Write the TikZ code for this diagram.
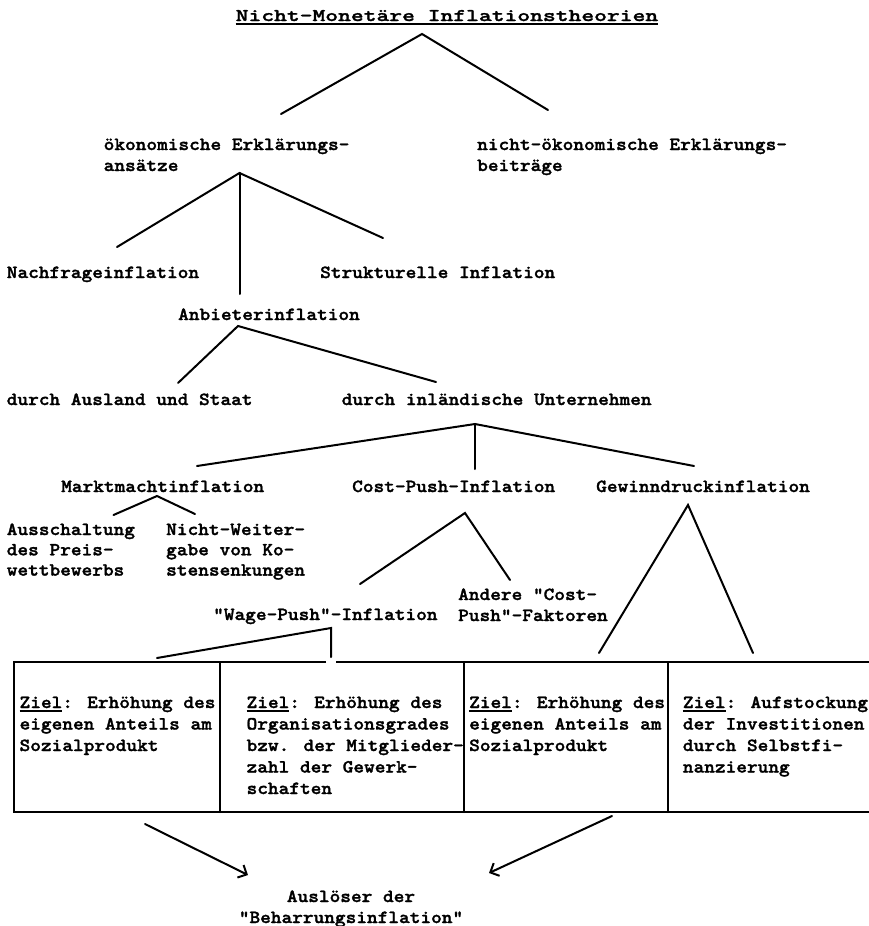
\documentclass[tikz,border=0pt]{standalone}
\usepackage{fontspec}
\usetikzlibrary{arrows.meta}
\newfontfamily\tw[Extension=.otf, FakeStretch=1.10, FakeBold=1.6, UprightFont=*, BoldFont=*]{lmmonolt10-bold}
\newfontfamily\twt[Extension=.otf, FakeStretch=1.37, FakeBold=1.6, UprightFont=*, BoldFont=*]{lmmonolt10-bold}
\newcommand\ulined[1]{\setbox0\hbox{#1}\rlap{\vrule width\wd0 height -2pt depth 3.8pt}\box0}
\newcommand\lns[1]{\begin{tabular}[t]{@{}l@{}}#1\end{tabular}}
\tikzset{
  lbl/.style={inner sep=0pt, anchor=base west, font=\tw\fontsize{18.5}{#1}\selectfont},
  lbl/.default=21.5,
  ttl/.style={inner sep=0pt, anchor=base west, font=\twt\fontsize{17.8}{21}\selectfont},
  ln/.style={line width=2pt, line cap=round},
  arr/.style={ln, -{Straight Barb[length=7pt,width=14pt,line width=2pt]}}
}
\begin{document}
\begin{tikzpicture}[x=1pt,y=-1pt]
\useasboundingbox (0,0) rectangle (868,926);
% texts
\node[ttl] (title) at (235.5,21) {\ulined{Nicht-Monetäre Inflationstheorien}};
\node[lbl=21] (oek) at (103.5,150) {\lns{ökonomische Erklärungs-\\ansätze}};
\node[lbl=21] (noek) at (477,150) {\lns{nicht-ökonomische Erklärungs-\\beiträge}};
\node[lbl] (nach) at (6.6,278) {Nachfrageinflation};
\node[lbl] (strukt) at (320,278) {Strukturelle Inflation};
\node[lbl] (anb) at (178,320) {Anbieterinflation};
\node[lbl] (ausl) at (6.6,405) {durch Ausland und Staat};
\node[lbl] (inl) at (341.6,405) {durch inländische Unternehmen};
\node[lbl] (markt) at (61,492) {Marktmachtinflation};
\node[lbl] (cost) at (352,492) {Cost-Push-Inflation};
\node[lbl] (gew) at (596,492) {Gewinndruckinflation};
\node[lbl=20.3] (aussch) at (6.6,535) {\lns{Ausschaltung\\des Preis-\\wettbewerbs}};
\node[lbl=20.3] (nweit) at (166,535) {\lns{Nicht-Weiter-\\gabe von Ko-\\stensenkungen}};
\node[lbl=21] (andere) at (458,600) {\lns{Andere "Cost-\\Push"-Faktoren}};
\node[lbl] (wage) at (213,620) {"Wage-Push"-Inflation};
\node[lbl] (z1) at (19.4,708) {\lns{\ulined{Ziel}: Erhöhung des\\eigenen Anteils am\\Sozialprodukt}};
\node[lbl] (z2) at (246.4,708) {\lns{\ulined{Ziel}: Erhöhung des\\Organisationsgrades\\bzw. der Mitglieder-\\zahl der Gewerk-\\schaften}};
\node[lbl] (z3) at (469,708) {\lns{\ulined{Ziel}: Erhöhung des\\eigenen Anteils am\\Sozialprodukt}};
\node[lbl] (z4) at (682.7,708) {\lns{\ulined{Ziel}: Aufstockung\\der Investitionen\\durch Selbstfi-\\nanzierung}};
\node[lbl=21, anchor=base] (beh) at (351,902) {\begin{tabular}[t]{@{}c@{}}Auslöser der\\"Beharrungsinflation"\end{tabular}};
% box
\coordinate (bTL) at (14,662); \coordinate (bBL) at (14,812);
\coordinate (bTR) at (872,662); \coordinate (bBR) at (872,812);
\coordinate (gap1) at (326,662); \coordinate (gap2) at (336,662);
\draw[ln, line cap=butt] (gap1) -- (bTL) -- (bBL) -- (bBR) -- (bTR) -- (gap2);
\coordinate (d1t) at (220,662); \coordinate (d1b) at (220,812);
\coordinate (d2t) at (464,662); \coordinate (d2b) at (464,812);
\coordinate (d3t) at (668,662); \coordinate (d3b) at (668,812);
\draw[ln] (d1t) -- (d1b); \draw[ln] (d2t) -- (d2b); \draw[ln] (d3t) -- (d3b);
% tree coordinates
\coordinate (tA) at (422,34);  \coordinate (tL) at (281,114); \coordinate (tR) at (548,110);
\coordinate (oA) at (239.5,173); \coordinate (oL) at (117,247); \coordinate (oM) at (239.5,294); \coordinate (oR) at (383,238);
\coordinate (aA) at (238,326); \coordinate (aL) at (178,383); \coordinate (aR) at (436,382);
\coordinate (iA) at (475,424); \coordinate (iL) at (197,466); \coordinate (iM) at (475,469); \coordinate (iR) at (694,466);
\coordinate (mA) at (157,496); \coordinate (mL) at (113.5,515); \coordinate (mR) at (195,514);
\coordinate (cA) at (465,513); \coordinate (cL) at (360,584); \coordinate (cR) at (510,580);
\coordinate (gA) at (688,505); \coordinate (gL) at (599,653); \coordinate (gR) at (753,653);
\coordinate (wA) at (331,628); \coordinate (wL) at (157,658); \coordinate (wM) at (331,657);
\draw[ln] (tL) -- (tA) -- (tR);
\draw[ln] (oL) -- (oA) -- (oR); \draw[ln] (oA) -- (oM);
\draw[ln] (aL) -- (aA) -- (aR);
\draw[ln] (iL) -- (iA) -- (iR); \draw[ln] (iA) -- (iM);
\draw[ln] (mL) -- (mA) -- (mR);
\draw[ln] (cL) -- (cA) -- (cR);
\draw[ln] (gL) -- (gA) -- (gR);
\draw[ln] (wL) -- (wA) -- (wM);
% arrows
\coordinate (p1) at (145,824); \coordinate (q1) at (248,875);
\coordinate (p2) at (612,816); \coordinate (q2) at (489,873);
\draw[arr] (p1) -- (q1);
\draw[arr] (p2) -- (q2);
\end{tikzpicture}
\end{document}
